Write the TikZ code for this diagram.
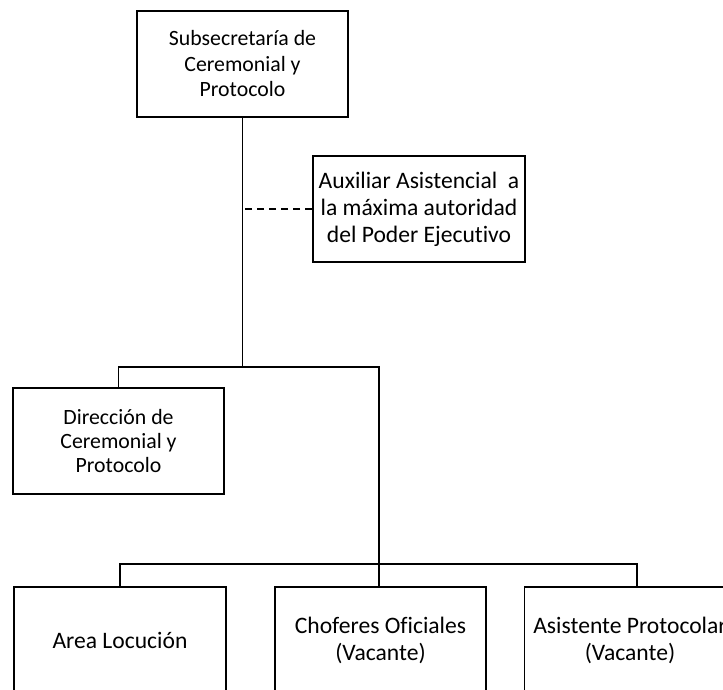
\documentclass[tikz,border=0pt]{standalone}
\usepackage{fontspec}
\setmainfont{Carlito}[Ligatures=CommonOff]
\begin{document}
\begin{tikzpicture}[x=1pt,y=-1pt,
  orgbox/.style={draw, line width=1.6pt, minimum width=211pt, minimum height=106pt,
    align=center, inner sep=0pt, font=\fontsize{21.8}{25.5}\selectfont},
  bigtext/.style={font=\fontsize{23.6}{27}\selectfont},
  conn/.style={line width=1.6pt}]
\useasboundingbox (0,0) rectangle (723,690);
\clip (0,0) rectangle (723,690);
\node[orgbox] (sub) at (242.5,64) {Subsecretaría de\\Ceremonial y\\Protocolo};
\node[orgbox, bigtext, minimum width=212pt] (aux) at (419,209) {Auxiliar Asistencial\ \ a\\la máxima autoridad\\del Poder Ejecutivo};
\node[orgbox, font=\fontsize{21.8}{24}\selectfont] (dir) at (118.5,441) {Dirección de\\Ceremonial y\\Protocolo};
\node[orgbox, bigtext, minimum width=212pt] (area) at (120,640) {Area Locución};
\node[orgbox, bigtext] (chof) at (380.5,640) {Choferes Oficiales\\(Vacante)};
\node[orgbox, bigtext] (asis) at (630,640) {Asistente Protocolar\\(Vacante)};
\coordinate (m1) at (242.5,367);
\coordinate (m2) at (379,367);
\coordinate (b1) at (379,564);
\coordinate (b3) at (637,564);
\draw[conn] (sub.south) -- (m1);
\draw[conn] (dir.north) |- (m2) -- (b1);
\draw[conn, dash pattern=on 7pt off 5pt] (aux.west) -- (aux.west -| m1);
\draw[conn] (area.north) |- (b3) -- (b3 |- asis.north);
\draw[conn] (b1) -- (b1 |- chof.north);
\end{tikzpicture}
\end{document}
